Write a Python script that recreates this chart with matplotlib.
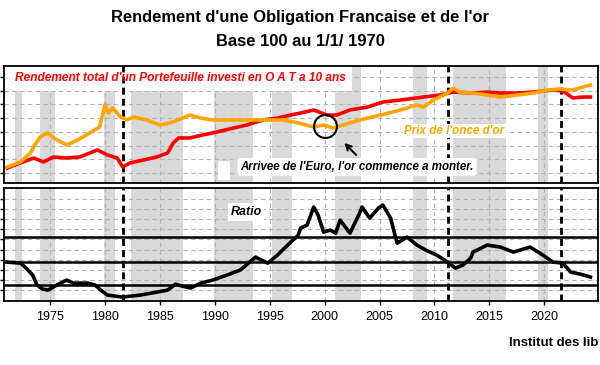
import matplotlib
matplotlib.use("Agg")
import matplotlib.pyplot as plt
from matplotlib.patches import Rectangle, FancyBboxPatch

plt.rcParams['font.family'] = ['Liberation Sans', 'DejaVu Sans']

# periodes grisees et evenements
shade_periods = [(1971.8, 1972.45), (1974.1, 1975.4), (1979.9, 1980.9), (1982.4, 1987.1),
                 (1989.9, 1993.5), (1995.2, 1997.0), (2000.9, 2003.3), (2008.0, 2009.3),
                 (2011.7, 2016.5), (2019.4, 2020.3)]
event_years = [1981.65, 2011.2, 2021.5]

# prix de l'once d'or (base 100)
gold_years = [1971.1, 1972.3, 1973.2, 1973.6, 1974.1, 1974.4, 1974.8, 1975.3, 1976.5, 1977.5,
              1978.6, 1979.5, 1980.0, 1980.3, 1980.7, 1981.4, 1982.0, 1982.6, 1983.8, 1985.0,
              1986.2, 1987.7, 1988.7, 1989.8, 1991.7, 1993.5, 1994.8, 1996.2, 1997.6, 1999.0,
              1999.9, 2000.8, 2001.7, 2003.2, 2005.1, 2006.9, 2008.4, 2009.0, 2009.9, 2011.2,
              2011.7, 2012.3, 2013.5, 2014.8, 2016.0, 2017.5, 2019.0, 2020.3, 2021.4, 2022.6,
              2023.5, 2024.2]
gold = [106, 136, 215, 321, 481, 533, 590, 458, 321, 414,
        590, 800, 2500, 1619, 2087, 1324, 1138, 1324, 1138, 883,
        1029, 1464, 1259, 1138, 1138, 1138, 1138, 1138, 979, 800,
        883, 759, 883, 1138, 1464, 1886, 2429, 2193, 3124, 4450,
        5735, 4683, 4450, 4026, 3639, 4026, 4450, 5184, 5452, 5184,
        6029, 6671]

# rendement total OAT 10 ans (base 100)
oat_years = [1971.1, 1972.3, 1973.5, 1974.4, 1975.3, 1976.5, 1977.7, 1979.3, 1980.2, 1981.1,
             1981.6, 1982.3, 1983.5, 1984.7, 1985.7, 1986.2, 1986.7, 1987.7, 1988.9, 1990.2,
             1991.7, 1992.9, 1994.4, 1995.7, 1996.9, 1997.8, 1999.0, 2000.2, 2001.1, 2002.3,
             2003.9, 2005.3, 2006.9, 2009.0, 2010.5, 2011.7, 2013.5, 2014.8, 2016.0, 2017.5,
             2019.0, 2020.8, 2021.7, 2022.6, 2023.5, 2024.2]
oat = [100, 130, 166, 136, 175, 166, 175, 250, 194, 166,
       106, 130, 150, 175, 215, 355, 458, 458, 533, 621,
       759, 883, 1138, 1259, 1464, 1619, 1886, 1464, 1464, 1886,
       2193, 2826, 3124, 3639, 4026, 4683, 4450, 4683, 4450, 4450,
       4683, 5184, 4930, 3461, 3639, 3639]

# ratio
ratio_years = [1971.1, 1972.3, 1972.8, 1973.4, 1973.8, 1974.3, 1974.8, 1975.6, 1976.5, 1977.1,
               1978.4, 1979.1, 1979.6, 1980.2, 1981.6, 1983.2, 1984.7, 1985.7, 1986.4, 1987.0,
               1987.8, 1988.7, 1989.8, 1991.1, 1992.3, 1993.7, 1994.8, 1995.7, 1996.9, 1997.6,
               1997.8, 1998.4, 1999.0, 1999.4, 1999.9, 2000.5, 2001.0, 2001.4, 2002.3, 2003.1,
               2003.4, 2004.1, 2004.9, 2005.3, 2006.0, 2006.4, 2006.6, 2007.5, 2008.4, 2009.2,
               2010.2, 2011.2, 2011.9, 2012.6, 2013.3, 2013.5, 2014.8, 2016.0, 2017.2, 2018.7,
               2019.6, 2020.8, 2021.7, 2022.4, 2023.3, 2024.2]
ratio = [3.76, 3.66, 3.17, 2.48, 1.49, 1.09, 0.99, 1.49, 1.98, 1.68,
         1.68, 1.49, 0.99, 0.50, 0.30, 0.50, 0.79, 0.99, 1.58, 1.39,
         1.19, 1.68, 1.98, 2.48, 2.97, 4.26, 3.66, 4.46, 5.74, 6.44,
         7.13, 7.43, 9.21, 8.42, 6.73, 6.93, 6.63, 7.92, 6.63, 8.42,
         9.21, 8.12, 9.11, 9.41, 8.12, 6.44, 5.64, 6.24, 5.45, 4.95,
         4.46, 3.76, 3.17, 3.47, 4.16, 4.75, 5.45, 5.25, 4.75, 5.25,
         4.65, 3.76, 3.66, 2.77, 2.57, 2.28]
ratio_levels = [1.49, 3.76, 6.24]

x_ticks = [1975, 1980, 1985, 1990, 1995, 2000, 2005, 2010, 2015, 2020]
top_ticks = [10000 / 2 ** k for k in range(8)]
bottom_ticks = list(range(1, 11))

RED = '#ff0000'
ORANGE = '#ffa500'
GREY = '#d9d9d9'

fig = plt.figure(figsize=(6, 3.65), dpi=100)
ax1 = fig.add_axes([0.007, 0.499, 0.990, 0.320])
ax2 = fig.add_axes([0.007, 0.175, 0.990, 0.310])

for ax in (ax1, ax2):
    for a, b in shade_periods:
        ax.axvspan(a, b, color=GREY, lw=0, zorder=0.2)
    for yr in event_years:
        ax.axvline(yr, color='black', lw=2, ls=(0, (2.5, 1.5)), zorder=1.5)
    ax.set_xlim(1970.81, 2024.91)
    ax.set_xticks(x_ticks)
    ax.grid(True, color='#b3b3b3', ls=(0, (4, 3)), lw=0.8)
    ax.set_axisbelow(True)
    for s in ax.spines.values():
        s.set_linewidth(1.3)
    ax.tick_params(axis='y', labelleft=False, length=3, width=1)

# panneau du haut
ax1.set_yscale('log')
ax1.plot(oat_years, oat, color=RED, lw=2.6, zorder=3)
ax1.plot(gold_years, gold, color=ORANGE, lw=2.6, zorder=3)
ax1.set_ylim(47.2, 17440)
ax1.set_yticks(top_ticks)
ax1.minorticks_off()
ax1.tick_params(axis='x', labelbottom=False, length=0)

# cache blanc derriere le titre rouge
ax1.add_patch(Rectangle((0, 0.786), 0.586, 0.214, transform=ax1.transAxes,
                        facecolor='white', edgecolor='none', zorder=1))
ax1.add_patch(FancyBboxPatch((0.366, 0.03), 0.008, 0.15, boxstyle='round,pad=0.006',
                             transform=ax1.transAxes, facecolor='white', edgecolor='none',
                             zorder=1))

ax1.text(0.0185, 0.897, "Rendement total d'un Portefeuille investi en O A T a 10 ans",
         transform=ax1.transAxes, color=RED, fontsize=8.6, fontweight='bold', style='italic',
         va='center', ha='left', zorder=5)
ax1.text(0.758, 0.444, "Prix de l'once d'or", transform=ax1.transAxes, color=ORANGE,
         fontsize=8.4, fontweight='bold', style='italic', ha='center', va='center', zorder=5,
         bbox=dict(facecolor='white', edgecolor='none', pad=1))
ax1.text(0.594, 0.137, "Arrivee de l'Euro, l'or commence a monter.", transform=ax1.transAxes,
         color='black', fontsize=8.3, fontweight='bold', style='italic', ha='center',
         va='center', zorder=5,
         bbox=dict(facecolor='white', edgecolor='none', boxstyle='round,pad=0.25'))
ax1.plot([2000.0], [840], marker='o', ms=16.5, mfc='none', mec='black', mew=1.5, zorder=6)
ax1.annotate('', xy=(2001.6, 394), xytext=(2003.05, 175),
             arrowprops=dict(arrowstyle='->', color='black', lw=1.5), zorder=6)

# panneau du bas
ax2.plot(ratio_years, ratio, color='black', lw=2.6, zorder=3)
for lv in ratio_levels:
    ax2.axhline(lv, color='black', lw=1.8, zorder=2.5)
ax2.set_ylim(-0.1, 11.1)
ax2.set_yticks(bottom_ticks)
ax2.tick_params(axis='x', length=3, width=1, labelsize=9, pad=4)
ax2.text(0.407, 0.788, "Ratio", transform=ax2.transAxes, color='black', fontsize=9,
         fontweight='bold', style='italic', ha='center', va='center', zorder=5,
         bbox=dict(facecolor='white', edgecolor='none', pad=2))

fig.text(0.5, 0.951, "Rendement d'une Obligation Francaise et de l'or", ha='center',
         va='center', fontsize=11.9, fontweight='bold')
fig.text(0.5, 0.885, "Base 100 au 1/1/ 1970", ha='center', va='center', fontsize=11.9,
         fontweight='bold')
fig.text(0.998, 0.060, "Institut des lib", ha='right', va='center', fontsize=9.5,
         fontweight='bold')

fig.savefig('out.png', dpi=100)
